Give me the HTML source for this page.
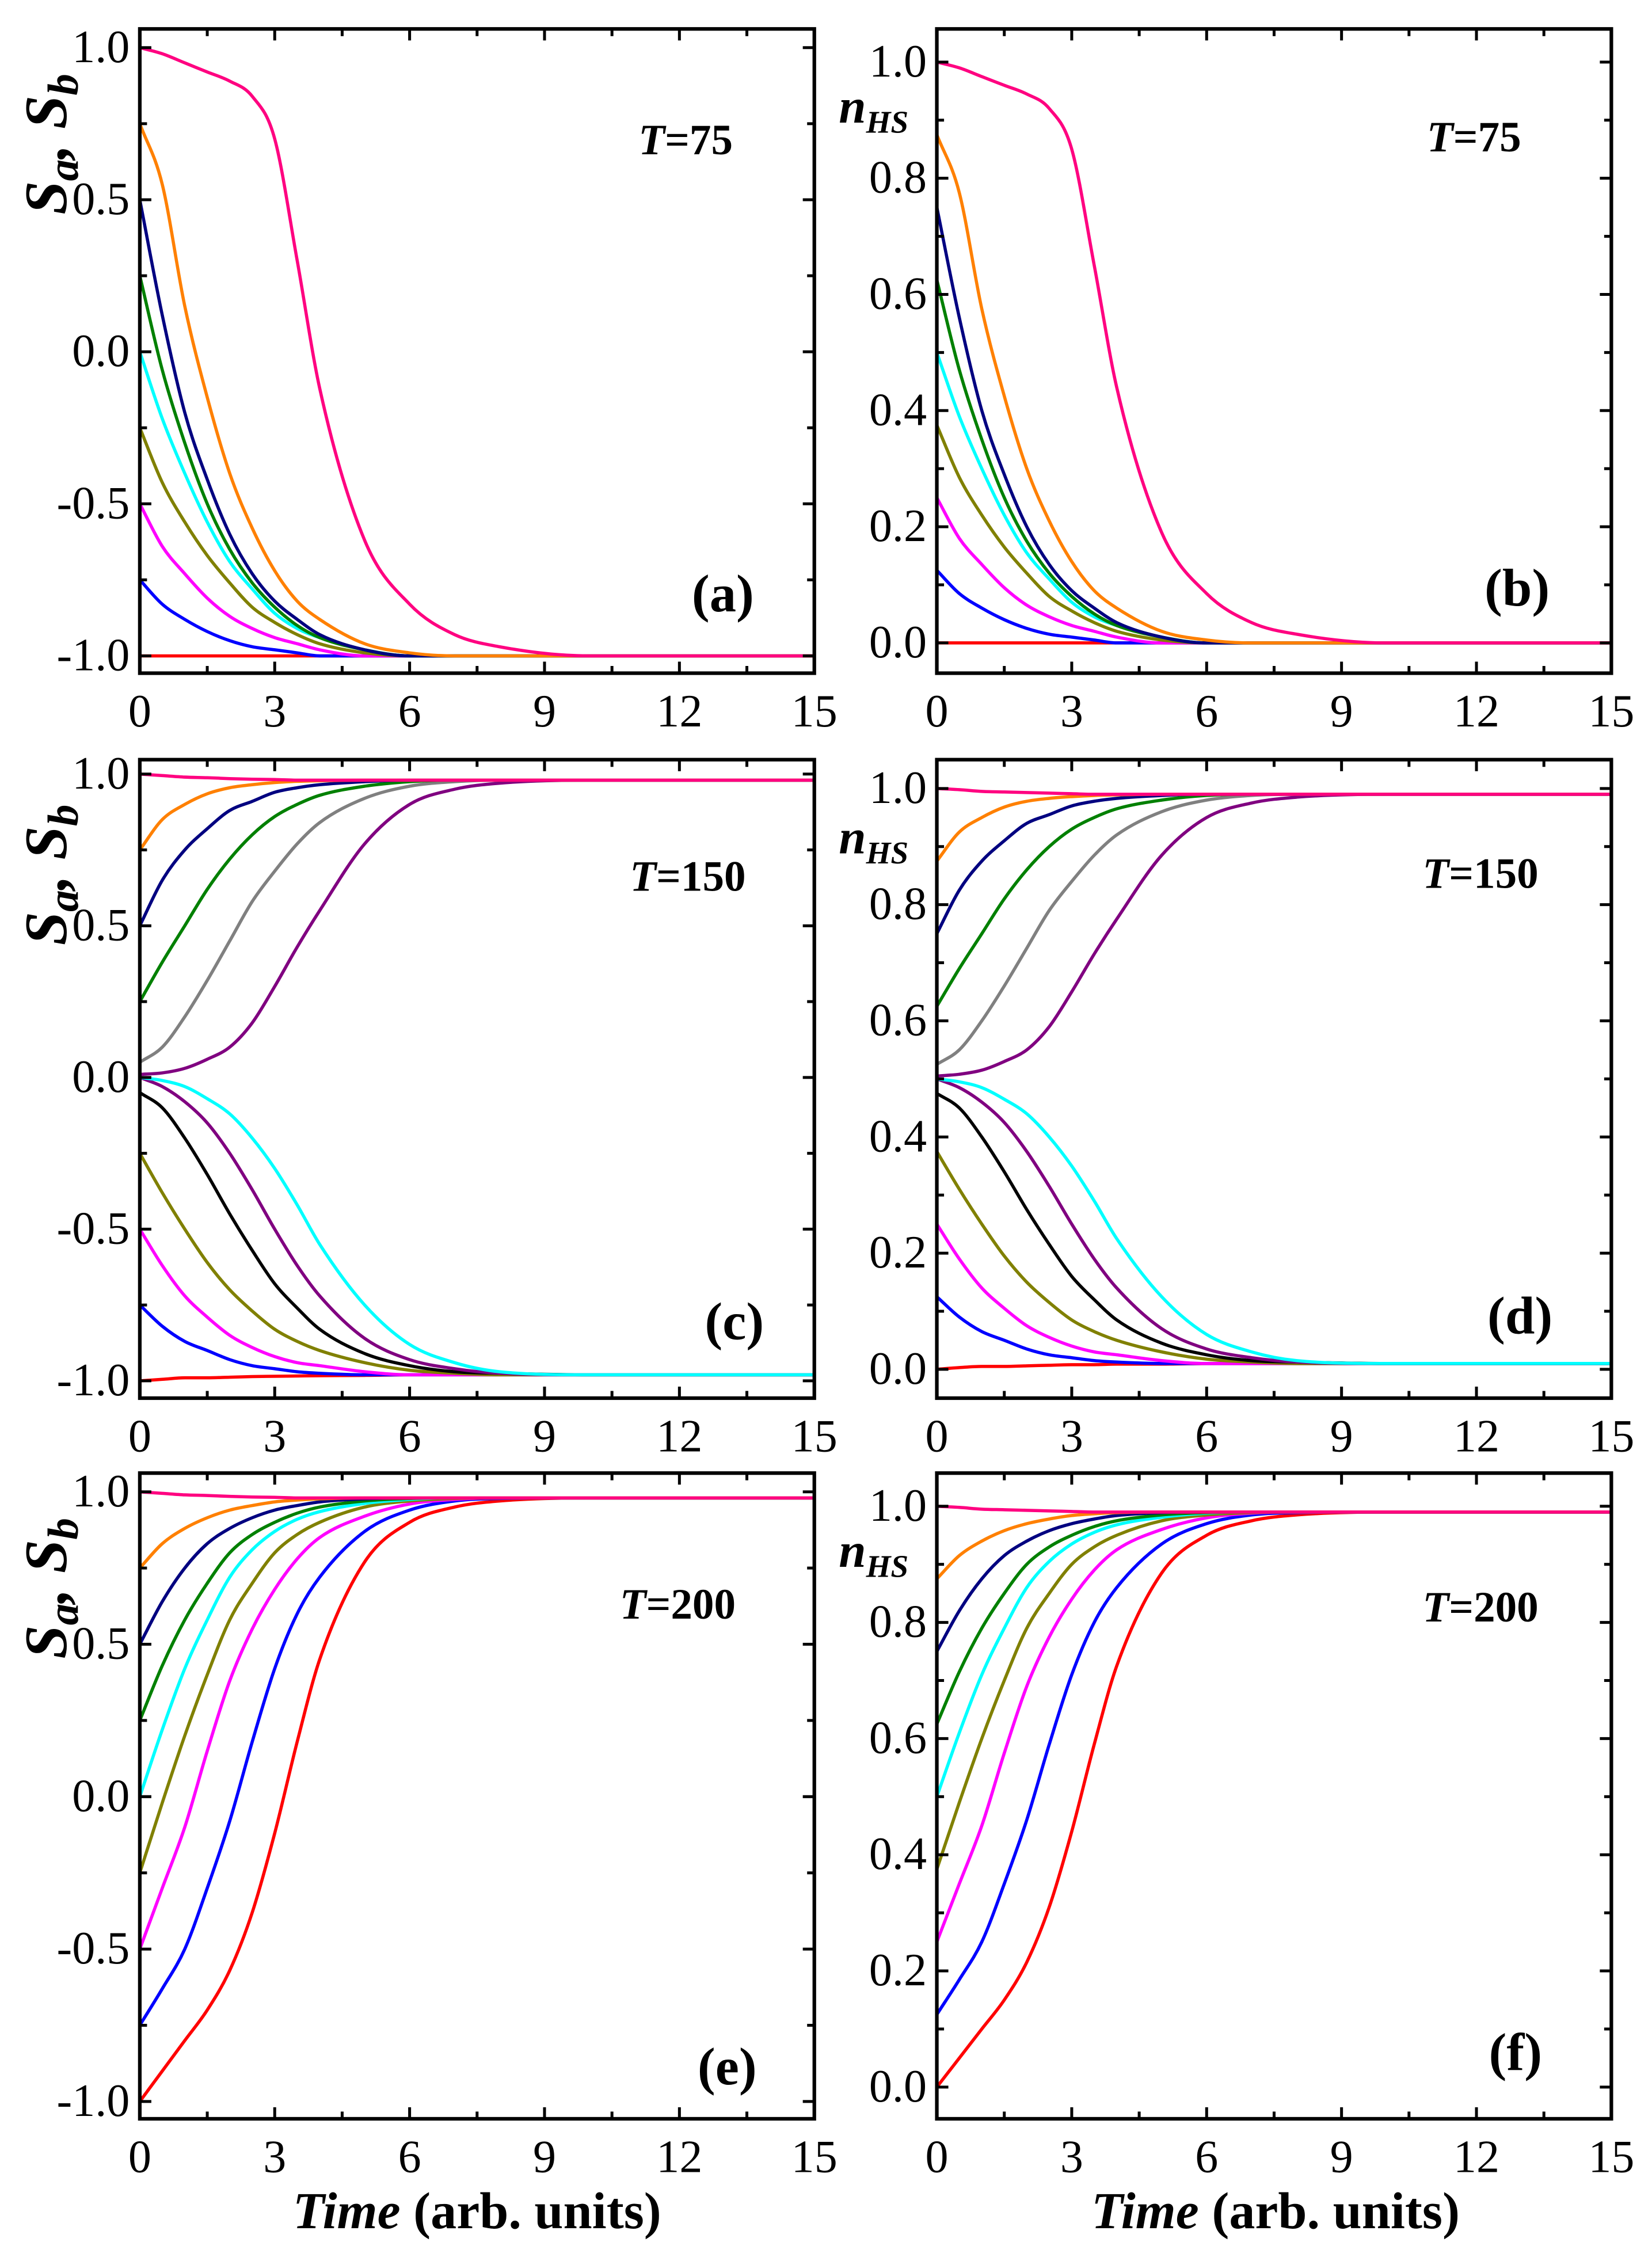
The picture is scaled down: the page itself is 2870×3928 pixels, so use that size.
<!DOCTYPE html>
<html><head><meta charset="utf-8"><style>
html,body{margin:0;padding:0;background:#fff;}
svg{display:block;font-family:"Liberation Serif",serif;}
svg text{font-family:"Liberation Serif",serif;}
</style></head><body>
<svg id="fig" xmlns="http://www.w3.org/2000/svg" width="2870" height="3928" viewBox="0 0 1146.2 1568.6"></svg>
<script>
const times = [0,0.5,1,1.5,2,2.5,3,3.5,4,5,6,7,8,10,15];
const xTicks = [0,3,6,9,12,15];
const sTicks = [-1.0,-0.5,0.0,0.5,1.0];
const sTickLabels = ["-1.0","-0.5","0.0","0.5","1.0"];
const nTicks = [0,0.2,0.4,0.6,0.8,1.0];
const nTickLabels = ["0.0","0.2","0.4","0.6","0.8","1.0"];

// Panel (a) S, T=75
const aPink=[1,0.98,0.95,0.92,0.89,0.84,0.70,0.30,-0.12,-0.62,-0.83,-0.93,-0.97,-1,-1];
const aOrange=[0.75,0.55,0.15,-0.15,-0.4,-0.58,-0.72,-0.82,-0.88,-0.96,-0.99,-1,-1,-1,-1];
const aNavy=[0.5,0.12,-0.2,-0.42,-0.6,-0.73,-0.82,-0.88,-0.93,-0.98,-1,-1,-1,-1,-1];
const aGreen=[0.25,-0.06,-0.3,-0.5,-0.65,-0.76,-0.84,-0.9,-0.94,-0.98,-1,-1,-1,-1,-1];
const aCyan=[0,-0.22,-0.4,-0.56,-0.69,-0.78,-0.86,-0.91,-0.94,-0.98,-1,-1,-1,-1,-1];
const aOlive=[-0.25,-0.43,-0.56,-0.67,-0.76,-0.84,-0.89,-0.93,-0.96,-0.99,-1,-1,-1,-1,-1];
const aMagenta=[-0.5,-0.64,-0.73,-0.81,-0.87,-0.91,-0.94,-0.96,-0.98,-1,-1,-1,-1,-1,-1];
const aBlue=[-0.75,-0.83,-0.88,-0.92,-0.95,-0.97,-0.98,-0.99,-1,-1,-1,-1,-1,-1,-1];
const aRed=[-1,-1,-1,-1,-1,-1,-1,-1,-1,-1,-1,-1,-1,-1,-1];

// Panel (b) nHS, T=75
const bPink=[1,0.99,0.975,0.96,0.945,0.92,0.85,0.65,0.44,0.19,0.085,0.035,0.015,0,0];
const bOrange=[0.875,0.775,0.575,0.425,0.3,0.21,0.14,0.09,0.06,0.02,0.005,0,0,0,0];
const bNavy=[0.75,0.56,0.4,0.29,0.2,0.135,0.09,0.06,0.035,0.01,0,0,0,0,0];
const bGreen=[0.625,0.47,0.35,0.25,0.175,0.12,0.08,0.05,0.03,0.01,0,0,0,0,0];
const bCyan=[0.5,0.39,0.3,0.22,0.155,0.11,0.07,0.045,0.03,0.01,0,0,0,0,0];
const bOlive=[0.375,0.285,0.22,0.165,0.12,0.08,0.055,0.035,0.02,0.005,0,0,0,0,0];
const bMagenta=[0.25,0.18,0.135,0.095,0.065,0.045,0.03,0.02,0.01,0,0,0,0,0,0];
const bBlue=[0.125,0.085,0.06,0.04,0.025,0.015,0.01,0.005,0,0,0,0,0,0,0];
const bRed=[0,0,0,0,0,0,0,0,0,0,0,0,0,0,0];

// Panel (c) S, T=150
const cPink=[1,0.995,0.99,0.988,0.985,0.983,0.982,0.98,0.98,0.98,0.98,0.98,0.98,0.98,0.98];
const cOrange=[0.75,0.85,0.9,0.935,0.955,0.965,0.972,0.976,0.978,0.98,0.98,0.98,0.98,0.98,0.98];
const cNavy=[0.5,0.65,0.75,0.82,0.88,0.91,0.94,0.955,0.965,0.975,0.98,0.98,0.98,0.98,0.98];
const cGreen=[0.25,0.38,0.5,0.62,0.72,0.8,0.86,0.9,0.93,0.96,0.975,0.98,0.98,0.98,0.98];
const cGray=[0.05,0.1,0.2,0.32,0.45,0.58,0.68,0.77,0.84,0.92,0.96,0.975,0.98,0.98,0.98];
const cPurpleUp=[0.01,0.015,0.03,0.06,0.1,0.18,0.3,0.43,0.55,0.77,0.9,0.95,0.97,0.98,0.98];
const cCyan=[0,-0.01,-0.03,-0.07,-0.12,-0.2,-0.3,-0.42,-0.55,-0.75,-0.88,-0.94,-0.97,-0.98,-0.98];
const cPurpleLow=[0,-0.03,-0.08,-0.15,-0.25,-0.37,-0.5,-0.62,-0.72,-0.86,-0.93,-0.96,-0.975,-0.98,-0.98];
const cBlack=[-0.05,-0.1,-0.2,-0.32,-0.45,-0.57,-0.68,-0.76,-0.83,-0.91,-0.95,-0.97,-0.975,-0.98,-0.98];
const cOlive=[-0.25,-0.38,-0.5,-0.61,-0.7,-0.77,-0.83,-0.87,-0.9,-0.94,-0.965,-0.975,-0.98,-0.98,-0.98];
const cMagenta=[-0.5,-0.62,-0.72,-0.79,-0.85,-0.89,-0.92,-0.94,-0.95,-0.97,-0.98,-0.98,-0.98,-0.98,-0.98];
const cBlue=[-0.75,-0.82,-0.87,-0.9,-0.93,-0.95,-0.96,-0.97,-0.975,-0.98,-0.98,-0.98,-0.98,-0.98,-0.98];
const cRed=[-1,-0.995,-0.99,-0.99,-0.988,-0.986,-0.985,-0.984,-0.983,-0.982,-0.98,-0.98,-0.98,-0.98,-0.98];

// Panel (d) nHS, T=150
const dPink=[1,0.998,0.995,0.994,0.993,0.992,0.991,0.99,0.99,0.99,0.99,0.99,0.99,0.99,0.99];
const dOrange=[0.875,0.925,0.95,0.968,0.978,0.983,0.986,0.988,0.989,0.99,0.99,0.99,0.99,0.99,0.99];
const dNavy=[0.75,0.825,0.875,0.91,0.94,0.955,0.97,0.978,0.983,0.988,0.99,0.99,0.99,0.99,0.99];
const dGreen=[0.625,0.69,0.75,0.81,0.86,0.9,0.93,0.95,0.965,0.98,0.988,0.99,0.99,0.99,0.99];
const dGray=[0.525,0.55,0.6,0.66,0.725,0.79,0.84,0.885,0.92,0.96,0.98,0.988,0.99,0.99,0.99];
const dPurpleUp=[0.505,0.508,0.515,0.53,0.55,0.59,0.65,0.715,0.775,0.885,0.95,0.975,0.985,0.99,0.99];
const dCyan=[0.5,0.495,0.485,0.465,0.44,0.4,0.35,0.29,0.225,0.125,0.06,0.03,0.015,0.01,0.01];
const dPurpleLow=[0.5,0.485,0.46,0.425,0.375,0.315,0.25,0.19,0.14,0.07,0.035,0.02,0.0125,0.01,0.01];
const dBlack=[0.475,0.45,0.4,0.34,0.275,0.215,0.16,0.12,0.085,0.045,0.025,0.015,0.0125,0.01,0.01];
const dOlive=[0.375,0.31,0.25,0.195,0.15,0.115,0.085,0.065,0.05,0.03,0.0175,0.0125,0.01,0.01,0.01];
const dMagenta=[0.25,0.19,0.14,0.105,0.075,0.055,0.04,0.03,0.025,0.015,0.01,0.01,0.01,0.01,0.01];
const dBlue=[0.125,0.09,0.065,0.05,0.035,0.025,0.02,0.015,0.0125,0.01,0.01,0.01,0.01,0.01,0.01];
const dRed=[0,0.003,0.005,0.005,0.006,0.007,0.008,0.008,0.009,0.009,0.01,0.01,0.01,0.01,0.01];

// Panel (e) S, T=200
const ePink=[1,0.995,0.99,0.988,0.985,0.983,0.982,0.98,0.98,0.98,0.98,0.98,0.98,0.98,0.98];
const eOrange=[0.75,0.83,0.88,0.915,0.94,0.955,0.967,0.973,0.977,0.98,0.98,0.98,0.98,0.98,0.98];
const eNavy=[0.5,0.64,0.75,0.83,0.88,0.915,0.94,0.955,0.967,0.977,0.98,0.98,0.98,0.98,0.98];
const eGreen=[0.25,0.43,0.58,0.7,0.8,0.86,0.9,0.93,0.95,0.97,0.978,0.98,0.98,0.98,0.98];
const eCyan=[0,0.22,0.42,0.58,0.72,0.81,0.87,0.91,0.935,0.962,0.975,0.98,0.98,0.98,0.98];
const eOlive=[-0.25,-0.02,0.2,0.4,0.58,0.7,0.8,0.86,0.9,0.95,0.97,0.978,0.98,0.98,0.98];
const eMagenta=[-0.5,-0.3,-0.1,0.15,0.38,0.55,0.68,0.78,0.85,0.92,0.96,0.975,0.98,0.98,0.98];
const eBlue=[-0.75,-0.63,-0.5,-0.3,-0.08,0.18,0.42,0.6,0.72,0.87,0.94,0.97,0.978,0.98,0.98];
const eRed=[-1,-0.9,-0.8,-0.7,-0.57,-0.38,-0.12,0.18,0.45,0.77,0.9,0.95,0.97,0.98,0.98];

// Panel (f) nHS, T=200
const fPink=[1,0.998,0.995,0.994,0.993,0.992,0.991,0.99,0.99,0.99,0.99,0.99,0.99,0.99,0.99];
const fOrange=[0.875,0.915,0.94,0.958,0.97,0.978,0.984,0.987,0.989,0.99,0.99,0.99,0.99,0.99,0.99];
const fNavy=[0.75,0.82,0.875,0.915,0.94,0.958,0.97,0.978,0.984,0.989,0.99,0.99,0.99,0.99,0.99];
const fGreen=[0.625,0.715,0.79,0.85,0.9,0.93,0.95,0.965,0.975,0.985,0.989,0.99,0.99,0.99,0.99];
const fCyan=[0.5,0.61,0.71,0.79,0.86,0.905,0.935,0.955,0.968,0.981,0.988,0.99,0.99,0.99,0.99];
const fOlive=[0.375,0.49,0.6,0.7,0.79,0.85,0.9,0.93,0.95,0.975,0.985,0.989,0.99,0.99,0.99];
const fMagenta=[0.25,0.35,0.45,0.575,0.69,0.775,0.84,0.89,0.925,0.96,0.98,0.988,0.99,0.99,0.99];
const fBlue=[0.125,0.185,0.25,0.35,0.46,0.59,0.71,0.8,0.86,0.935,0.97,0.985,0.989,0.99,0.99];
const fRed=[0,0.05,0.1,0.15,0.215,0.31,0.44,0.59,0.725,0.885,0.95,0.975,0.985,0.99,0.99];

const C={pink:"#ff0080",orange:"#ff8000",navy:"#000080",green:"#008000",cyan:"#00ffff",olive:"#808000",magenta:"#ff00ff",blue:"#0000ff",red:"#ff0000",gray:"#808080",purple:"#800080",black:"#000000"};

const panels=[
 {id:"a",left:97,right:565,top:20,bottom:467,v1:1,p1:33,v2:-1,p2:455,kind:"S",T:"75",tx:443,ty:107,lx:480,ly:424,
  series:[["red",aRed],["blue",aBlue],["magenta",aMagenta],["olive",aOlive],["cyan",aCyan],["green",aGreen],["navy",aNavy],["orange",aOrange],["pink",aPink]]},
 {id:"b",left:650,right:1118,top:20,bottom:467,v1:1,p1:43,v2:0,p2:446,kind:"n",T:"75",tx:990,ty:105,lx:1030,ly:420,
  series:[["red",bRed],["blue",bBlue],["magenta",bMagenta],["olive",bOlive],["cyan",bCyan],["green",bGreen],["navy",bNavy],["orange",bOrange],["pink",bPink]]},
 {id:"c",left:97,right:565,top:527,bottom:970,v1:1,p1:537,v2:-1,p2:958,kind:"S",T:"150",tx:437,ty:618,lx:489,ly:929,
  series:[["red",cRed],["blue",cBlue],["magenta",cMagenta],["olive",cOlive],["black",cBlack],["purple",cPurpleLow],["cyan",cCyan],["purple",cPurpleUp],["gray",cGray],["green",cGreen],["navy",cNavy],["orange",cOrange],["pink",cPink]]},
 {id:"d",left:650,right:1118,top:527,bottom:970,v1:1,p1:547,v2:0,p2:950,kind:"n",T:"150",tx:987,ty:616,lx:1032,ly:925,
  series:[["red",dRed],["blue",dBlue],["magenta",dMagenta],["olive",dOlive],["black",dBlack],["purple",dPurpleLow],["cyan",dCyan],["purple",dPurpleUp],["gray",dGray],["green",dGreen],["navy",dNavy],["orange",dOrange],["pink",dPink]]},
 {id:"e",left:97,right:565,top:1022,bottom:1470,v1:1,p1:1035,v2:-1,p2:1458,kind:"S",T:"200",tx:430,ty:1123,lx:484,ly:1446,
  series:[["red",eRed],["blue",eBlue],["magenta",eMagenta],["olive",eOlive],["cyan",eCyan],["green",eGreen],["navy",eNavy],["orange",eOrange],["pink",ePink]]},
 {id:"f",left:650,right:1118,top:1022,bottom:1470,v1:1,p1:1045,v2:0,p2:1448,kind:"n",T:"200",tx:987,ty:1125,lx:1033,ly:1436,
  series:[["red",fRed],["blue",fBlue],["magenta",fMagenta],["olive",fOlive],["cyan",fCyan],["green",fGreen],["navy",fNavy],["orange",fOrange],["pink",fPink]]}
];

const NS="http://www.w3.org/2000/svg";
const svg=document.getElementById("fig");
function mk(tag,attrs,parent){const e=document.createElementNS(NS,tag);for(const k in attrs)e.setAttribute(k,attrs[k]);(parent||svg).appendChild(e);return e;}

function monotonePath(px,py){
 const n=px.length;const d=[],m=new Array(n);
 for(let i=0;i<n-1;i++)d.push((py[i+1]-py[i])/(px[i+1]-px[i]));
 m[0]=d[0];m[n-1]=d[n-2];
 for(let i=1;i<n-1;i++){m[i]=(d[i-1]*d[i]<=0)?0:(d[i-1]+d[i])/2;}
 for(let i=0;i<n-1;i++){if(d[i]===0){m[i]=0;m[i+1]=0;continue;}const a=m[i]/d[i],b=m[i+1]/d[i];const s=a*a+b*b;if(s>9){const t=3/Math.sqrt(s);m[i]=t*a*d[i];m[i+1]=t*b*d[i];}}
 let p="M"+px[0].toFixed(2)+","+py[0].toFixed(2);
 for(let i=0;i<n-1;i++){const h=(px[i+1]-px[i])/3;p+=" C"+(px[i]+h).toFixed(2)+","+(py[i]+m[i]*h).toFixed(2)+" "+(px[i+1]-h).toFixed(2)+","+(py[i+1]-m[i+1]*h).toFixed(2)+" "+px[i+1].toFixed(2)+","+py[i+1].toFixed(2);}
 return p;
}

panels.forEach(P=>{
 const g=mk("g",{});
 
 
 const xs=t=>P.left+(t/15)*(P.right-P.left);
 const ys=v=>P.p1+(v-P.v1)*(P.p2-P.p1)/(P.v2-P.v1);
 const cp=mk("clipPath",{id:"clip"+P.id},g);
 mk("rect",{x:P.left,y:P.top,width:P.right-P.left,height:P.bottom-P.top},cp);
 const lines=mk("g",{"clip-path":"url(#clip"+P.id+")"},g);
 
 
 P.series.forEach(([col,vals])=>{
  const px=times.map(xs),py=vals.map(ys);
  const path=mk("path",{d:monotonePath(px,py),fill:"none",stroke:C[col],"stroke-width":2.2},lines);
  
  
 });
 const fr=mk("rect",{x:P.left,y:P.top,width:P.right-P.left,height:P.bottom-P.top,fill:"none",stroke:"#000","stroke-width":2.5},g);
 
 
 for(let t=0;t<=15.001;t+=1.5){
  const major=Math.abs(t/3-Math.round(t/3))<1e-6;const L=major?8:5;const x=xs(t);
  mk("line",{x1:x,x2:x,y1:P.bottom,y2:P.bottom-L,stroke:"#000","stroke-width":2},g);
  mk("line",{x1:x,x2:x,y1:P.top,y2:P.top+L,stroke:"#000","stroke-width":2},g);
 }
 xTicks.forEach(t=>{
  const tx=mk("text",{x:xs(t),y:P.bottom+37,"font-size":32,"text-anchor":"middle"},g);
  tx.textContent=String(t);
  
  
 });
 const step=P.kind==="S"?0.25:0.1;
 const lo=P.kind==="S"?-1:0;
 const majStep=P.kind==="S"?0.5:0.2;
 for(let k=0;;k++){
  const v=lo+k*step; if(v>1.0001)break;
  const major=Math.abs((v-lo)/majStep-Math.round((v-lo)/majStep))<1e-6;const L=major?8:5;const y=ys(v);
  mk("line",{x1:P.left,x2:P.left+L,y1:y,y2:y,stroke:"#000","stroke-width":2},g);
  mk("line",{x1:P.right,x2:P.right-L,y1:y,y2:y,stroke:"#000","stroke-width":2},g);
 }
 const tv=P.kind==="S"?sTicks:nTicks, tl=P.kind==="S"?sTickLabels:nTickLabels;
 tv.forEach((v,i)=>{
  const tx=mk("text",{x:P.left-7,y:ys(v)+10,"font-size":32,"text-anchor":"end"},g);
  tx.textContent=tl[i];
  
  
 });
 const ta=mk("text",{x:P.tx,y:P.ty,"font-size":30,"font-weight":"bold"},g);
 
 
 const ts=mk("tspan",{"font-style":"italic"},ta);ts.textContent="T";
 const ts2=mk("tspan",{},ta);ts2.textContent="="+P.T;
 const pl=mk("text",{x:P.lx,y:P.ly,"font-size":37,"font-weight":"bold"},g);
 pl.textContent="("+P.id+")";
 
 
 if(P.kind==="S"){
  const cy=P.top+80;
  const yt=mk("text",{x:0,y:0,"font-size":42,"font-weight":"bold","font-style":"italic","text-anchor":"middle",transform:"translate(46,"+cy+") rotate(-90)"},g);
  
  
  const a1=mk("tspan",{},yt);a1.textContent="S";
  const a2=mk("tspan",{"font-size":30,dy:8},yt);a2.textContent="a";
  const a3=mk("tspan",{dy:-8},yt);a3.textContent=", S";
  const a4=mk("tspan",{"font-size":30,dy:8},yt);a4.textContent="b";
 } else {
  const yt=mk("text",{x:582,y:P.top+65,"font-size":34,"font-weight":"bold","font-style":"italic"},g);
  
  
  const a1=mk("tspan",{},yt);a1.textContent="n";
  const a2=mk("tspan",{"font-size":22,dy:7},yt);a2.textContent="HS";
 }
});

[331,885].forEach((cx,i)=>{
 const t=mk("text",{x:cx,y:1546,"font-size":36,"font-weight":"bold","text-anchor":"middle"});
 
 
 const a=mk("tspan",{"font-style":"italic"},t);a.textContent="Time";
 const b=mk("tspan",{},t);b.textContent=" (arb. units)";
});
</script>
</body></html>
